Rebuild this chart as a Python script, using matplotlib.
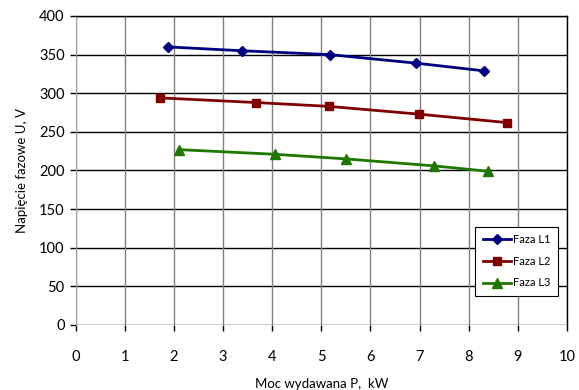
import matplotlib
matplotlib.use("Agg")
import matplotlib.pyplot as plt

# data
p_l1 = [1.87, 3.38, 5.17, 6.92, 8.31]
u_l1 = [360, 355, 350, 339, 329]
p_l2 = [1.71, 3.66, 5.15, 6.98, 8.78]
u_l2 = [294, 288, 283, 273, 262]
p_l3 = [2.10, 4.05, 5.50, 7.29, 8.39]
u_l3 = [227, 221, 215, 206, 199]

x_ticks = list(range(0, 11))
y_ticks = list(range(0, 401, 50))

plt.rcParams['font.family'] = ['Lato', 'DejaVu Sans']

fig = plt.figure(figsize=(5.79, 3.9), dpi=100)
ax = fig.add_axes([0.131, 0.1667, 0.848, 0.7923])

ax.set_xlim(0, 10)
ax.set_ylim(0, 400)
ax.set_xticks(x_ticks)
ax.set_yticks(y_ticks)

# grid: black horizontal, gray vertical
for y in y_ticks:
    ax.axhline(y, color='black', lw=1.0, zorder=1)
for x in x_ticks:
    ax.axvline(x, color='#808080', lw=1.0, zorder=1)

ax.plot(p_l1, u_l1, color='#000080', lw=2.0, marker='D', ms=5, label='Faza L1', zorder=3)
ax.plot(p_l2, u_l2, color='#800000', lw=2.0, marker='s', ms=6, label='Faza L2', zorder=3)
ax.plot(p_l3, u_l3, color='#1e7800', lw=2.0, marker='^', ms=6.5, label='Faza L3', zorder=3)

for side in ['top', 'right']:
    ax.spines[side].set_color('black')
    ax.spines[side].set_linewidth(1.0)
ax.spines['left'].set_color('#a0a0a0')
ax.spines['bottom'].set_visible(False)

ax.tick_params(axis='x', length=4, width=1, color='black', pad=14, labelsize=10.5)
ax.tick_params(axis='y', length=4, width=1, color='black', pad=4, labelsize=10.5)

ax.set_xlabel('Moc wydawana P,  kW', fontsize=9.5, labelpad=10)
ax.set_ylabel('Napięcie fazowe U, V', fontsize=9.5, labelpad=8)

leg = ax.legend(loc='lower right', bbox_to_anchor=(0.993, 0.075), fontsize=8,
                frameon=True, fancybox=False, edgecolor='black', framealpha=1,
                handlelength=2.6, handletextpad=0.1, labelspacing=0.95,
                borderpad=0.7)
leg.get_frame().set_linewidth(0.8)

plt.savefig('out.png', dpi=100)
